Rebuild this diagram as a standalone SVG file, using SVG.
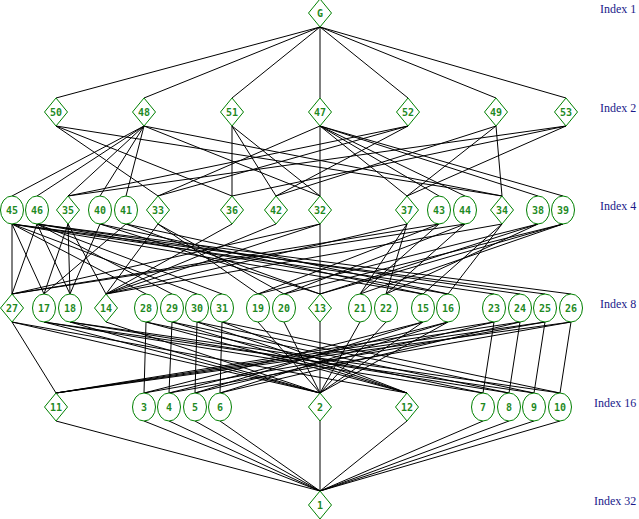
<svg xmlns="http://www.w3.org/2000/svg" width="639" height="519" viewBox="0 0 639 519">
<style>
.e line{stroke:#000;stroke-width:1;fill:none}
.dia{fill:#fff;stroke:#008000;stroke-width:1}
.cir{fill:#fff;stroke:#008000;stroke-width:1}
.lb{font-family:"DejaVu Sans Mono",monospace;font-size:10px;font-weight:bold;fill:#1f8a1f;text-anchor:middle}
.ix{font-family:"Liberation Serif",serif;font-size:12px;fill:#1a1a8a}
</style>
<rect width="639" height="519" fill="#fff"/>
<g id="connectors" class="e">
<line x1="320" y1="27" x2="56" y2="98"/><line x1="320" y1="27" x2="144" y2="98"/><line x1="320" y1="27" x2="232" y2="98"/><line x1="320" y1="27" x2="320" y2="98"/><line x1="320" y1="27" x2="408" y2="98"/><line x1="320" y1="27" x2="496" y2="98"/><line x1="320" y1="27" x2="566" y2="98"/>
<line x1="56" y1="126" x2="232" y2="196"/><line x1="56" y1="126" x2="502" y2="196"/><line x1="56" y1="126" x2="158" y2="196"/>
<line x1="144" y1="126" x2="320" y2="196"/><line x1="144" y1="126" x2="68" y2="196"/><line x1="144" y1="126" x2="502" y2="196"/><line x1="144" y1="126" x2="12" y2="196"/><line x1="144" y1="126" x2="37" y2="196"/><line x1="144" y1="126" x2="100" y2="196"/><line x1="144" y1="126" x2="126" y2="196"/>
<line x1="232" y1="126" x2="320" y2="196"/><line x1="232" y1="126" x2="232" y2="196"/><line x1="232" y1="126" x2="276" y2="196"/>
<line x1="320" y1="126" x2="320" y2="196"/><line x1="320" y1="126" x2="407" y2="196"/><line x1="320" y1="126" x2="158" y2="196"/><line x1="320" y1="126" x2="439" y2="196"/><line x1="320" y1="126" x2="465" y2="196"/><line x1="320" y1="126" x2="538" y2="196"/><line x1="320" y1="126" x2="563" y2="196"/>
<line x1="408" y1="126" x2="276" y2="196"/><line x1="408" y1="126" x2="68" y2="196"/><line x1="408" y1="126" x2="158" y2="196"/>
<line x1="496" y1="126" x2="276" y2="196"/><line x1="496" y1="126" x2="502" y2="196"/><line x1="496" y1="126" x2="407" y2="196"/>
<line x1="566" y1="126" x2="232" y2="196"/><line x1="566" y1="126" x2="68" y2="196"/><line x1="566" y1="126" x2="407" y2="196"/>
<line x1="12" y1="224" x2="12" y2="294"/><line x1="12" y1="224" x2="423" y2="294"/><line x1="12" y1="224" x2="44" y2="294"/><line x1="12" y1="224" x2="146" y2="294"/><line x1="12" y1="224" x2="197" y2="294"/><line x1="12" y1="224" x2="545" y2="294"/><line x1="12" y1="224" x2="494" y2="294"/>
<line x1="37" y1="224" x2="12" y2="294"/><line x1="37" y1="224" x2="448" y2="294"/><line x1="37" y1="224" x2="70" y2="294"/><line x1="37" y1="224" x2="172" y2="294"/><line x1="37" y1="224" x2="222" y2="294"/><line x1="37" y1="224" x2="571" y2="294"/><line x1="37" y1="224" x2="520" y2="294"/>
<line x1="100" y1="224" x2="320" y2="294"/><line x1="100" y1="224" x2="423" y2="294"/><line x1="100" y1="224" x2="70" y2="294"/>
<line x1="126" y1="224" x2="320" y2="294"/><line x1="126" y1="224" x2="448" y2="294"/><line x1="126" y1="224" x2="44" y2="294"/>
<line x1="502" y1="224" x2="106" y2="294"/><line x1="502" y1="224" x2="423" y2="294"/><line x1="502" y1="224" x2="448" y2="294"/>
<line x1="68" y1="224" x2="106" y2="294"/><line x1="68" y1="224" x2="44" y2="294"/><line x1="68" y1="224" x2="70" y2="294"/>
<line x1="232" y1="224" x2="106" y2="294"/><line x1="276" y1="224" x2="106" y2="294"/>
<line x1="320" y1="224" x2="106" y2="294"/><line x1="320" y1="224" x2="320" y2="294"/><line x1="320" y1="224" x2="12" y2="294"/>
<line x1="158" y1="224" x2="106" y2="294"/><line x1="158" y1="224" x2="258" y2="294"/><line x1="158" y1="224" x2="284" y2="294"/>
<line x1="407" y1="224" x2="106" y2="294"/><line x1="407" y1="224" x2="360" y2="294"/><line x1="407" y1="224" x2="386" y2="294"/>
<line x1="439" y1="224" x2="12" y2="294"/><line x1="439" y1="224" x2="258" y2="294"/><line x1="439" y1="224" x2="360" y2="294"/>
<line x1="465" y1="224" x2="12" y2="294"/><line x1="465" y1="224" x2="284" y2="294"/><line x1="465" y1="224" x2="386" y2="294"/>
<line x1="538" y1="224" x2="320" y2="294"/><line x1="538" y1="224" x2="258" y2="294"/><line x1="538" y1="224" x2="386" y2="294"/>
<line x1="563" y1="224" x2="320" y2="294"/><line x1="563" y1="224" x2="284" y2="294"/><line x1="563" y1="224" x2="360" y2="294"/>
<line x1="12" y1="322" x2="56" y2="393"/><line x1="12" y1="322" x2="320" y2="393"/><line x1="12" y1="322" x2="407" y2="393"/>
<line x1="106" y1="322" x2="320" y2="393"/><line x1="320" y1="322" x2="320" y2="393"/><line x1="258" y1="322" x2="320" y2="393"/><line x1="284" y1="322" x2="320" y2="393"/><line x1="360" y1="322" x2="320" y2="393"/><line x1="386" y1="322" x2="320" y2="393"/>
<line x1="423" y1="322" x2="320" y2="393"/><line x1="423" y1="322" x2="144" y2="393"/><line x1="423" y1="322" x2="195" y2="393"/>
<line x1="448" y1="322" x2="320" y2="393"/><line x1="448" y1="322" x2="169" y2="393"/><line x1="448" y1="322" x2="220" y2="393"/>
<line x1="44" y1="322" x2="320" y2="393"/><line x1="44" y1="322" x2="483" y2="393"/><line x1="44" y1="322" x2="534" y2="393"/>
<line x1="70" y1="322" x2="320" y2="393"/><line x1="70" y1="322" x2="509" y2="393"/><line x1="70" y1="322" x2="560" y2="393"/>
<line x1="146" y1="322" x2="144" y2="393"/><line x1="146" y1="322" x2="483" y2="393"/><line x1="146" y1="322" x2="407" y2="393"/>
<line x1="172" y1="322" x2="169" y2="393"/><line x1="172" y1="322" x2="509" y2="393"/><line x1="172" y1="322" x2="407" y2="393"/>
<line x1="197" y1="322" x2="195" y2="393"/><line x1="197" y1="322" x2="534" y2="393"/><line x1="197" y1="322" x2="407" y2="393"/>
<line x1="222" y1="322" x2="220" y2="393"/><line x1="222" y1="322" x2="560" y2="393"/><line x1="222" y1="322" x2="407" y2="393"/>
<line x1="494" y1="322" x2="483" y2="393"/><line x1="494" y1="322" x2="195" y2="393"/><line x1="494" y1="322" x2="56" y2="393"/>
<line x1="520" y1="322" x2="509" y2="393"/><line x1="520" y1="322" x2="220" y2="393"/><line x1="520" y1="322" x2="56" y2="393"/>
<line x1="545" y1="322" x2="534" y2="393"/><line x1="545" y1="322" x2="144" y2="393"/><line x1="545" y1="322" x2="56" y2="393"/>
<line x1="571" y1="322" x2="560" y2="393"/><line x1="571" y1="322" x2="169" y2="393"/><line x1="571" y1="322" x2="56" y2="393"/>
<line x1="56" y1="421" x2="320" y2="491"/><line x1="144" y1="421" x2="320" y2="491"/><line x1="169" y1="421" x2="320" y2="491"/><line x1="195" y1="421" x2="320" y2="491"/><line x1="220" y1="421" x2="320" y2="491"/><line x1="320" y1="421" x2="320" y2="491"/><line x1="407" y1="421" x2="320" y2="491"/><line x1="483" y1="421" x2="320" y2="491"/><line x1="509" y1="421" x2="320" y2="491"/><line x1="534" y1="421" x2="320" y2="491"/><line x1="560" y1="421" x2="320" y2="491"/>
</g>
<g id="nG"><path class="dia" d="M320,-1 L331.5,13 L320,27 L308.5,13 Z"/><text class="lb" x="320" y="16.5">G</text></g>
<g id="n50"><path class="dia" d="M56,98 L67.5,112 L56,126 L44.5,112 Z"/><text class="lb" x="56" y="115.5">50</text></g>
<g id="n48"><path class="dia" d="M144,98 L155.5,112 L144,126 L132.5,112 Z"/><text class="lb" x="144" y="115.5">48</text></g>
<g id="n51"><path class="dia" d="M232,98 L243.5,112 L232,126 L220.5,112 Z"/><text class="lb" x="232" y="115.5">51</text></g>
<g id="n47"><path class="dia" d="M320,98 L331.5,112 L320,126 L308.5,112 Z"/><text class="lb" x="320" y="115.5">47</text></g>
<g id="n52"><path class="dia" d="M408,98 L419.5,112 L408,126 L396.5,112 Z"/><text class="lb" x="408" y="115.5">52</text></g>
<g id="n49"><path class="dia" d="M496,98 L507.5,112 L496,126 L484.5,112 Z"/><text class="lb" x="496" y="115.5">49</text></g>
<g id="n53"><path class="dia" d="M566,98 L577.5,112 L566,126 L554.5,112 Z"/><text class="lb" x="566" y="115.5">53</text></g>
<g id="n45"><ellipse class="cir" cx="12" cy="210" rx="11.5" ry="14"/><text class="lb" x="12" y="213.5">45</text></g>
<g id="n46"><ellipse class="cir" cx="37" cy="210" rx="11.5" ry="14"/><text class="lb" x="37" y="213.5">46</text></g>
<g id="n35"><path class="dia" d="M68,196 L79.5,210 L68,224 L56.5,210 Z"/><text class="lb" x="68" y="213.5">35</text></g>
<g id="n40"><ellipse class="cir" cx="100" cy="210" rx="11.5" ry="14"/><text class="lb" x="100" y="213.5">40</text></g>
<g id="n41"><ellipse class="cir" cx="126" cy="210" rx="11.5" ry="14"/><text class="lb" x="126" y="213.5">41</text></g>
<g id="n33"><path class="dia" d="M158,196 L169.5,210 L158,224 L146.5,210 Z"/><text class="lb" x="158" y="213.5">33</text></g>
<g id="n36"><path class="dia" d="M232,196 L243.5,210 L232,224 L220.5,210 Z"/><text class="lb" x="232" y="213.5">36</text></g>
<g id="n42"><path class="dia" d="M276,196 L287.5,210 L276,224 L264.5,210 Z"/><text class="lb" x="276" y="213.5">42</text></g>
<g id="n32"><path class="dia" d="M320,196 L331.5,210 L320,224 L308.5,210 Z"/><text class="lb" x="320" y="213.5">32</text></g>
<g id="n37"><path class="dia" d="M407,196 L418.5,210 L407,224 L395.5,210 Z"/><text class="lb" x="407" y="213.5">37</text></g>
<g id="n43"><ellipse class="cir" cx="439" cy="210" rx="11.5" ry="14"/><text class="lb" x="439" y="213.5">43</text></g>
<g id="n44"><ellipse class="cir" cx="465" cy="210" rx="11.5" ry="14"/><text class="lb" x="465" y="213.5">44</text></g>
<g id="n34"><path class="dia" d="M502,196 L513.5,210 L502,224 L490.5,210 Z"/><text class="lb" x="502" y="213.5">34</text></g>
<g id="n38"><ellipse class="cir" cx="538" cy="210" rx="11.5" ry="14"/><text class="lb" x="538" y="213.5">38</text></g>
<g id="n39"><ellipse class="cir" cx="563" cy="210" rx="11.5" ry="14"/><text class="lb" x="563" y="213.5">39</text></g>
<g id="n27"><path class="dia" d="M12,294 L23.5,308 L12,322 L0.5,308 Z"/><text class="lb" x="12" y="311.5">27</text></g>
<g id="n17"><ellipse class="cir" cx="44" cy="308" rx="11.5" ry="14"/><text class="lb" x="44" y="311.5">17</text></g>
<g id="n18"><ellipse class="cir" cx="70" cy="308" rx="11.5" ry="14"/><text class="lb" x="70" y="311.5">18</text></g>
<g id="n14"><path class="dia" d="M106,294 L117.5,308 L106,322 L94.5,308 Z"/><text class="lb" x="106" y="311.5">14</text></g>
<g id="n28"><ellipse class="cir" cx="146" cy="308" rx="11.5" ry="14"/><text class="lb" x="146" y="311.5">28</text></g>
<g id="n29"><ellipse class="cir" cx="172" cy="308" rx="11.5" ry="14"/><text class="lb" x="172" y="311.5">29</text></g>
<g id="n30"><ellipse class="cir" cx="197" cy="308" rx="11.5" ry="14"/><text class="lb" x="197" y="311.5">30</text></g>
<g id="n31"><ellipse class="cir" cx="222" cy="308" rx="11.5" ry="14"/><text class="lb" x="222" y="311.5">31</text></g>
<g id="n19"><ellipse class="cir" cx="258" cy="308" rx="11.5" ry="14"/><text class="lb" x="258" y="311.5">19</text></g>
<g id="n20"><ellipse class="cir" cx="284" cy="308" rx="11.5" ry="14"/><text class="lb" x="284" y="311.5">20</text></g>
<g id="n13"><path class="dia" d="M320,294 L331.5,308 L320,322 L308.5,308 Z"/><text class="lb" x="320" y="311.5">13</text></g>
<g id="n21"><ellipse class="cir" cx="360" cy="308" rx="11.5" ry="14"/><text class="lb" x="360" y="311.5">21</text></g>
<g id="n22"><ellipse class="cir" cx="386" cy="308" rx="11.5" ry="14"/><text class="lb" x="386" y="311.5">22</text></g>
<g id="n15"><ellipse class="cir" cx="423" cy="308" rx="11.5" ry="14"/><text class="lb" x="423" y="311.5">15</text></g>
<g id="n16"><ellipse class="cir" cx="448" cy="308" rx="11.5" ry="14"/><text class="lb" x="448" y="311.5">16</text></g>
<g id="n23"><ellipse class="cir" cx="494" cy="308" rx="11.5" ry="14"/><text class="lb" x="494" y="311.5">23</text></g>
<g id="n24"><ellipse class="cir" cx="520" cy="308" rx="11.5" ry="14"/><text class="lb" x="520" y="311.5">24</text></g>
<g id="n25"><ellipse class="cir" cx="545" cy="308" rx="11.5" ry="14"/><text class="lb" x="545" y="311.5">25</text></g>
<g id="n26"><ellipse class="cir" cx="571" cy="308" rx="11.5" ry="14"/><text class="lb" x="571" y="311.5">26</text></g>
<g id="n11"><path class="dia" d="M56,393 L67.5,407 L56,421 L44.5,407 Z"/><text class="lb" x="56" y="410.5">11</text></g>
<g id="n3"><ellipse class="cir" cx="144" cy="407" rx="11.5" ry="14"/><text class="lb" x="144" y="410.5">3</text></g>
<g id="n4"><ellipse class="cir" cx="169" cy="407" rx="11.5" ry="14"/><text class="lb" x="169" y="410.5">4</text></g>
<g id="n5"><ellipse class="cir" cx="195" cy="407" rx="11.5" ry="14"/><text class="lb" x="195" y="410.5">5</text></g>
<g id="n6"><ellipse class="cir" cx="220" cy="407" rx="11.5" ry="14"/><text class="lb" x="220" y="410.5">6</text></g>
<g id="n2"><path class="dia" d="M320,393 L331.5,407 L320,421 L308.5,407 Z"/><text class="lb" x="320" y="410.5">2</text></g>
<g id="n12"><path class="dia" d="M407,393 L418.5,407 L407,421 L395.5,407 Z"/><text class="lb" x="407" y="410.5">12</text></g>
<g id="n7"><ellipse class="cir" cx="483" cy="407" rx="11.5" ry="14"/><text class="lb" x="483" y="410.5">7</text></g>
<g id="n8"><ellipse class="cir" cx="509" cy="407" rx="11.5" ry="14"/><text class="lb" x="509" y="410.5">8</text></g>
<g id="n9"><ellipse class="cir" cx="534" cy="407" rx="11.5" ry="14"/><text class="lb" x="534" y="410.5">9</text></g>
<g id="n10"><ellipse class="cir" cx="560" cy="407" rx="11.5" ry="14"/><text class="lb" x="560" y="410.5">10</text></g>
<g id="n1"><path class="dia" d="M320,491 L331.5,505 L320,519 L308.5,505 Z"/><text class="lb" x="320" y="508.5">1</text></g>
<g id="index-labels">
<text class="ix" x="600" y="13">Index 1</text>
<text class="ix" x="600" y="112">Index 2</text>
<text class="ix" x="600" y="210">Index 4</text>
<text class="ix" x="600" y="308">Index 8</text>
<text class="ix" x="594" y="407">Index 16</text>
<text class="ix" x="594" y="505">Index 32</text>
</g>
</svg>
